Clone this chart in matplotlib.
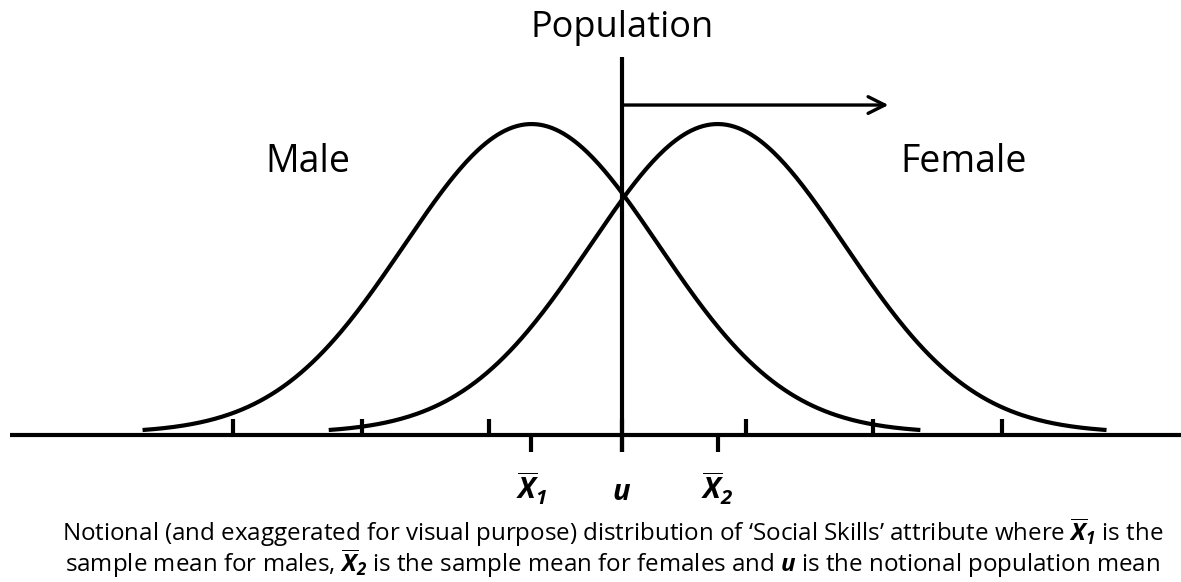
import numpy as np
import matplotlib
matplotlib.use('Agg')
import matplotlib.pyplot as plt

plt.rcParams['font.family'] = ['Open Sans', 'DejaVu Sans']
plt.rcParams['mathtext.fontset'] = 'custom'
plt.rcParams['mathtext.rm'] = 'Open Sans'
plt.rcParams['mathtext.it'] = 'Open Sans:italic'
plt.rcParams['mathtext.bf'] = 'Open Sans:bold'
plt.rcParams['mathtext.bfit'] = 'Open Sans:italic:bold'

# datos del diagrama (x en desviaciones estandar, u = 0)
titulo = 'Population'
grupos = ['Male', 'Female']
medias = [-0.71, 0.75]          # media muestral de cada grupo
sigma = 1.0
rango = 3.05                     # curvas truncadas en +-3 sigma
marcas_arriba = [-3.05, -2.04, -1.04, 0.0, 0.97, 1.97, 2.98]
marcas_abajo = [medias[0], 0.0, medias[1]]
etiquetas_abajo = [r'$\overline{\mathbfit{X}}_{\mathbfit{1}}$',
                   r'$\mathbfit{u}$',
                   r'$\overline{\mathbfit{X}}_{\mathbfit{2}}$']
pos_grupos = [-2.46, 2.68]
flecha_fin = 2.09
nota = [r"Notional (and exaggerated for visual purpose) distribution of "
        r"‘Social Skills’ attribute where $\overline{\mathbfit{X}}_{\mathbfit{1}}$ is the",
        r"sample mean for males, $\overline{\mathbfit{X}}_{\mathbfit{2}}$ is the sample "
        r"mean for females and $\mathbfit{u}$ is the notional population mean"]

fig = plt.figure(figsize=(11.81, 5.82), dpi=100)
ax = fig.add_axes([0, 0, 1, 1])
ax.set_xlim(-4.878, 4.384)
ax.set_ylim(-0.476, 1.408)
ax.axis('off')

lw = 3.0
elevar = 0.016

# curvas normales de cada grupo
for m in medias:
    x = np.linspace(m - rango * sigma, m + rango * sigma, 400)
    y = np.exp(-0.5 * ((x - m) / sigma) ** 2)
    y = y - y[0]
    ax.plot(x, y + elevar, color='black', lw=lw, solid_capstyle='butt')

# eje horizontal
ax.plot([-4.8, 4.384], [0, 0], color='black', lw=3.0, solid_capstyle='butt')

# marcas
for t in marcas_arriba:
    ax.plot([t, t], [0, 0.052], color='black', lw=3.0, solid_capstyle='butt')
for t in marcas_abajo:
    ax.plot([t, t], [0, -0.055], color='black', lw=3.0, solid_capstyle='butt')

# linea de la poblacion y flecha
ax.plot([0, 0], [-0.055, 1.223], color='black', lw=3.0, solid_capstyle='butt')
ax.annotate('', xy=(flecha_fin, 1.068), xytext=(0, 1.068),
            arrowprops=dict(arrowstyle='->', lw=2.4, color='black',
                            mutation_scale=30, shrinkA=0, shrinkB=0))

# textos
ax.text(0, 1.288, titulo, ha='center', va='baseline', fontsize=26)
for g, px in zip(grupos, pos_grupos):
    ax.text(px, 0.851, g, ha='center', va='baseline', fontsize=27)
for lab, t in zip(etiquetas_abajo, marcas_abajo):
    ax.text(t, -0.21, lab, ha='center', va='baseline', fontsize=21)

# nota al pie, dos lineas en un solo texto
ax.text(-0.07, -0.262, '\n'.join(nota), ha='center', va='top',
        fontsize=17.4, linespacing=0.92, multialignment='center')

fig.savefig('out.png', dpi=100, facecolor='white')
